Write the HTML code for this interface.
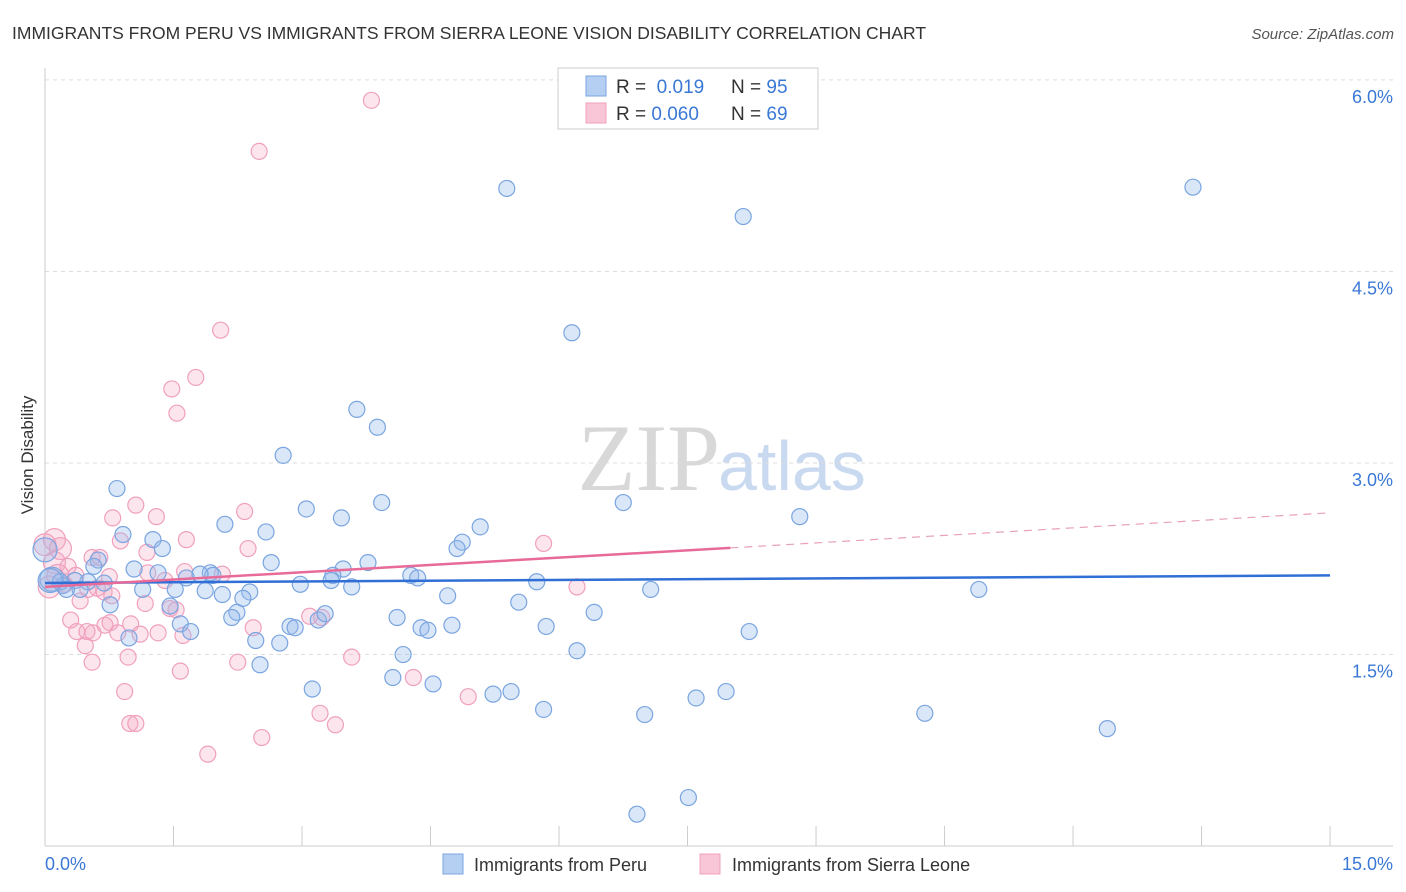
<!DOCTYPE html>
<html><head><meta charset="utf-8">
<style>
body{margin:0;background:#fff;font-family:"Liberation Sans",sans-serif;}
#wrap{position:relative;width:1406px;height:892px;overflow:hidden;}
</style></head>
<body>
<div id="wrap">
<svg id="chart" width="1406" height="892" xmlns="http://www.w3.org/2000/svg">
<text x="12" y="39" font-size="17.5" fill="#333">IMMIGRANTS FROM PERU VS IMMIGRANTS FROM SIERRA LEONE VISION DISABILITY CORRELATION CHART</text>
<text x="1394" y="39" font-size="15" fill="#555" font-style="italic" text-anchor="end">Source: ZipAtlas.com</text>
<text transform="translate(33,455) rotate(-90)" font-size="17" fill="#333" text-anchor="middle">Vision Disability</text>
<text x="720" y="490" font-size="95" fill="#d8d8d8" text-anchor="end" font-family="Liberation Serif">ZIP</text>
<text x="718" y="490" font-size="70" fill="#c9daf0">atlas</text>
<g id="grid"></g>
<g id="axes"></g>
<g id="pts"></g>
<g id="trend"></g>
<g>
<rect x="558" y="68" width="260" height="61" fill="#fff" stroke="#ccc"/>
<rect x="586" y="76" width="20" height="20" fill="#b5cff2" stroke="#7aa5e0"/>
<rect x="586" y="103" width="20" height="20" fill="#f8c6d6" stroke="#f0a0bd"/>
<text x="616" y="93" font-size="19" fill="#333">R = <tspan fill="#3a78d6">&#160;0.019</tspan></text>
<text x="731" y="93" font-size="19" fill="#333">N = <tspan fill="#3a78d6">95</tspan></text>
<text x="616" y="120" font-size="19" fill="#333">R = <tspan fill="#3a78d6">0.060</tspan></text>
<text x="731" y="120" font-size="19" fill="#333">N = <tspan fill="#3a78d6">69</tspan></text>
</g>
<g>
<rect x="443" y="854" width="20" height="20" fill="#b5cff2" stroke="#7aa5e0"/>
<text x="474" y="871" font-size="18" fill="#333">Immigrants from Peru</text>
<rect x="700" y="854" width="20" height="20" fill="#f8c6d6" stroke="#f0a0bd"/>
<text x="732" y="871" font-size="18" fill="#333">Immigrants from Sierra Leone</text>
</g>
</svg>
</div>
<script>
const yTicks=[1.5,3.0,4.5,6.0];
const yTickLabels=["1.5%","3.0%","4.5%","6.0%"];
const xTickLabels=["0.0%","15.0%"];
const peruX=[5.39,8.15,13.40,6.15,3.64,3.88,2.78,0.84,3.93,3.05,3.46,8.81,6.75,5.08,4.87,4.81,2.10,2.58,0.91,1.26,1.37,0.62,0.57,1.04,1.32,2.64,3.48,3.77,3.36,3.34,3.58,4.27,4.35,5.74,7.07,10.90,2.98,1.93,1.96,1.81,1.65,1.52,1.14,0.69,0.50,0.35,0.21,0.08,0.18,0.41,0.76,1.87,2.07,2.39,2.31,2.24,2.18,1.46,1.58,1.70,0.98,2.46,2.74,2.86,2.92,3.19,3.27,4.11,4.39,4.47,4.70,4.75,5.53,5.85,6.41,8.22,4.18,6.21,2.51,4.06,4.53,3.12,5.23,5.44,7.60,7.95,5.82,7.00,10.27,12.40,6.91,7.51,0.00,0.06,0.25];
const peruY=[5.15,4.93,5.16,4.02,3.42,3.28,3.06,2.80,2.69,2.64,2.57,2.58,2.69,2.50,2.38,2.33,2.52,2.46,2.44,2.40,2.33,2.24,2.19,2.17,2.14,2.22,2.17,2.22,2.12,2.08,2.03,2.12,2.10,2.07,2.01,2.01,2.05,2.14,2.12,2.13,2.10,2.01,2.01,2.06,2.07,2.08,2.04,2.09,2.07,2.01,1.89,2.00,1.97,1.99,1.94,1.83,1.79,1.88,1.74,1.68,1.63,1.61,1.59,1.72,1.71,1.77,1.82,1.79,1.71,1.69,1.96,1.73,1.91,1.72,1.83,1.68,1.50,1.53,1.42,1.32,1.27,1.23,1.19,1.21,1.16,1.21,1.07,1.03,1.04,0.92,0.25,0.38,2.32,2.08,2.01];
const slX=[3.81,2.50,2.05,1.76,1.48,1.54,1.06,1.30,0.79,2.33,1.65,0.88,1.19,2.37,5.82,0.55,0.64,0.11,0.27,0.15,0.36,0.75,1.20,2.07,0.05,0.23,0.50,0.61,0.69,0.41,1.17,1.46,1.53,0.30,0.76,0.70,1.00,2.43,3.09,3.23,0.37,0.56,0.85,0.49,1.11,1.32,1.61,0.47,0.97,0.55,2.25,3.58,1.58,4.30,0.93,4.94,3.21,0.99,1.06,3.39,2.53,1.90,6.21,0.11,0.00,0.18,1.40,1.63,0.78];
const slY=[5.84,5.44,4.04,3.67,3.58,3.39,2.67,2.58,2.57,2.62,2.40,2.39,2.30,2.33,2.37,2.26,2.26,2.22,2.19,2.12,2.12,2.11,2.14,2.13,2.03,2.05,2.01,2.02,1.99,1.92,1.90,1.86,1.85,1.77,1.75,1.73,1.74,1.71,1.80,1.79,1.68,1.67,1.67,1.68,1.66,1.67,1.65,1.57,1.48,1.44,1.44,1.48,1.37,1.32,1.21,1.17,1.04,0.96,0.96,0.95,0.85,0.72,2.03,2.40,2.36,2.33,2.08,2.15,1.96];
const peruTrend=[2.06,2.12];
const slTrend=[2.03,2.335,2.61];
const slTrendX=[0,8,15];

const NS="http://www.w3.org/2000/svg";
const xS=v=>45+v*85.67;
const yS=v=>463-(v-3)*127.7;
function mk(tag,attrs,parent){const e=document.createElementNS(NS,tag);for(const k in attrs)e.setAttribute(k,attrs[k]);parent.appendChild(e);return e;}
const grid=document.getElementById('grid'),axes=document.getElementById('axes'),pts=document.getElementById('pts'),trend=document.getElementById('trend');
yTicks.forEach((t,i)=>{
 const l=mk('line',{x1:45,x2:1393,y1:yS(t),y2:yS(t),stroke:'#ddd','stroke-dasharray':'4,4'},grid);
 
 
 const tx=mk('text',{x:1393,y:yS(t)+23,'font-size':18,fill:'#3a78d6','text-anchor':'end'},axes);
 tx.textContent=yTickLabels[i];
 
 
});
const ya=mk('line',{x1:45,x2:45,y1:68,y2:846,stroke:'#ccc'},axes);


const xa=mk('line',{x1:45,x2:1393,y1:846,y2:846,stroke:'#ccc'},axes);


for(let i=0;i<=10;i++){
 const tk=mk('line',{x1:xS(i*1.5),x2:xS(i*1.5),y1:826,y2:846,stroke:'#ccc'},axes);
 
 
}
[[0,'start',45],[15,'end',1393]].forEach((d,i)=>{
 const tx=mk('text',{x:d[2],y:870,'font-size':18,fill:'#3a78d6','text-anchor':d[1]},axes);
 tx.textContent=xTickLabels[i];
 
 
});
slX.forEach((x,i)=>{
 const c=mk('circle',{cx:xS(x),cy:yS(slY[i]),r:x<0.2?11:8,fill:'rgba(245,170,195,0.3)',stroke:'#f0a0bd','stroke-width':1.2},pts);
 
 
});
peruX.forEach((x,i)=>{
 const c=mk('circle',{cx:xS(x),cy:yS(peruY[i]),r:x<0.1?12:8,fill:'rgba(150,185,235,0.35)',stroke:'#7aa5e0','stroke-width':1.2},pts);
 
 
});
const pl=mk('line',{x1:xS(0),y1:yS(peruTrend[0]),x2:xS(15),y2:yS(peruTrend[1]),stroke:'#2f6fd6','stroke-width':2.5},trend);


const sl=mk('line',{x1:xS(slTrendX[0]),y1:yS(slTrend[0]),x2:xS(slTrendX[1]),y2:yS(slTrend[1]),stroke:'#e86a98','stroke-width':2.5},trend);


const sd=mk('line',{x1:xS(slTrendX[1]),y1:yS(slTrend[1]),x2:xS(slTrendX[2]),y2:yS(slTrend[2]),stroke:'#e8a0bb','stroke-width':1.2,'stroke-dasharray':'8,6'},trend);


</script>
</body></html>
